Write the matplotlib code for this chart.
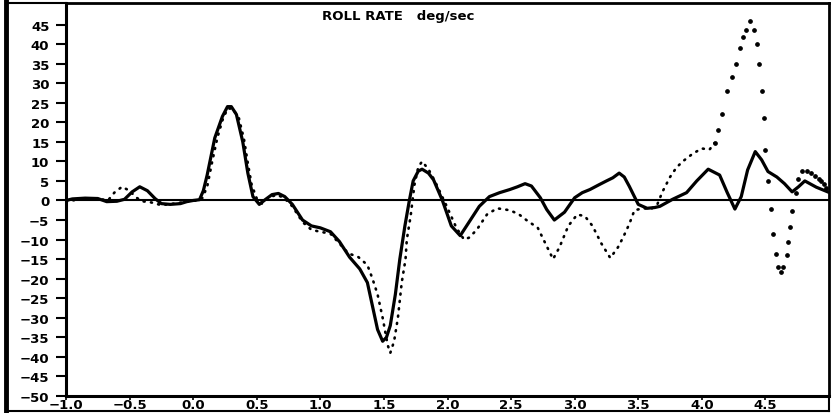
import numpy as np
import matplotlib.pyplot as plt
from matplotlib.lines import Line2D

# roll rate, simulation (solid)
t_sim = [-1.0, -0.95, -0.85, -0.75, -0.68, -0.6, -0.54, -0.48, -0.42, -0.36, -0.3,
         -0.25, -0.18, -0.1, -0.05, 0.0, 0.05, 0.08, 0.11, 0.17, 0.23, 0.27, 0.30,
         0.34, 0.39, 0.43, 0.47, 0.52, 0.57, 0.62, 0.67, 0.72, 0.78, 0.86, 0.93,
         1.0, 1.08, 1.15, 1.23, 1.31, 1.37, 1.41, 1.45, 1.49, 1.52, 1.55, 1.59,
         1.625, 1.665, 1.70, 1.73, 1.77, 1.80, 1.85, 1.89, 1.96, 2.03, 2.10, 2.18,
         2.25, 2.33, 2.41, 2.49, 2.55, 2.61, 2.66, 2.73, 2.78, 2.84, 2.92, 3.0,
         3.06, 3.12, 3.19, 3.25, 3.30, 3.35, 3.39, 3.43, 3.50, 3.57, 3.63, 3.67,
         3.77, 3.88, 3.96, 4.05, 4.14, 4.20, 4.26, 4.31, 4.36, 4.42, 4.47, 4.52,
         4.59, 4.65, 4.71, 4.76, 4.81, 4.90, 4.99]
p_sim = [0.0, 0.4, 0.6, 0.5, -0.3, -0.2, 0.3, 2.2, 3.5, 2.5, 0.5,
         -0.8, -1.0, -0.8, -0.3, 0.0, 0.2, 2.5, 6.5, 16, 21.5, 24, 24,
         22, 15, 7, 1, -1.0, 0.3, 1.5, 1.8, 1.0, -1.0, -5.0, -6.5,
         -7.0, -8.0, -10.5, -14.5, -17.5, -21, -27, -33, -36, -35, -32, -24,
         -15, -6.5, 0, 5, 7.5, 8, 7.0, 5.3, 0, -6.5, -9, -5,
         -1.5, 1, 2, 2.8, 3.5, 4.3, 3.7, 0.7, -2.3, -5, -3, 0.7,
         2.0, 2.8, 4, 5, 5.8, 7, 6, 3.6, -1, -2, -1.8, -1.5,
         0.3, 2, 5, 8, 6.5, 2, -2.2, 1, 7.8, 12.5, 10.4, 7.4,
         6, 4.3, 2.2, 3.5, 5, 3.4, 2.2]

# roll rate, flight data (dotted)
t_flt = [-1.0, -0.9, -0.8, -0.72, -0.67, -0.62, -0.56, -0.5, -0.45, -0.4, -0.33,
         -0.25, -0.15, -0.05, 0.02, 0.07, 0.11, 0.15, 0.19, 0.23, 0.27, 0.31,
         0.36, 0.40, 0.43, 0.46, 0.50, 0.54, 0.60, 0.66, 0.72, 0.78, 0.86, 0.93,
         1.0, 1.08, 1.15, 1.22, 1.30, 1.37, 1.41, 1.45, 1.49, 1.53, 1.55, 1.58,
         1.61, 1.64, 1.67, 1.68, 1.71, 1.74, 1.77, 1.80, 1.85, 1.90, 1.99, 2.07,
         2.13, 2.17, 2.23, 2.31, 2.39, 2.49, 2.56, 2.62, 2.71, 2.77, 2.83, 2.88,
         2.95, 3.02, 3.08, 3.14, 3.21, 3.28, 3.34, 3.38, 3.43, 3.47, 3.54, 3.60,
         3.65, 3.69, 3.75, 3.80, 3.85, 3.93, 4.0, 4.06, 4.10,
         4.13, 4.16, 4.20, 4.24, 4.27, 4.30, 4.32, 4.35, 4.38, 4.41, 4.43, 4.45,
         4.47, 4.49, 4.50, 4.52, 4.54, 4.56, 4.58, 4.60, 4.62, 4.64, 4.67, 4.68,
         4.69, 4.71, 4.74, 4.76, 4.79, 4.83, 4.86, 4.89, 4.92, 4.94, 4.96, 4.98]
p_flt = [-0.3, 0.3, 0.6, 0.3, 0.0, 2.0, 3.5, 2.5, 0.8, -0.2, -0.5,
         -1.2, -0.8, -0.3, 0.0, 0.5, 3.5, 10, 16, 20.5, 23.5, 23.5,
         21, 15.6, 9.5, 4, 0.5, -0.8, 0.8, 1.5, 0.5, -1.5, -5.5, -7.5,
         -8, -8.5, -11, -13.5, -14.5, -16.5, -20, -24, -30, -37, -39, -36,
         -30, -21, -15, -10, -4, 4, 8.5, 10, 8, 5, -1.2, -7,
         -10, -9.5, -7.5, -3.6, -2, -2.5, -3.5, -5, -7, -11, -15, -12,
         -6.5, -3.6, -4, -6.5, -11, -14.7, -12, -9.5, -6, -2.5, -2, -2.2,
         -1.0, 2.2, 6, 8.4, 10, 12, 13.3, 13, 14.7,
         18, 22, 28, 31.7, 35, 39, 41.7, 43.7, 46, 43.7, 40, 35,
         28, 21, 12.9, 5, -2.2, -8.6, -13.7, -17, -18.3, -17, -14, -10.6,
         -6.8, -2.7, 2, 5.5, 7.6, 7.6, 7.0, 6.2, 5.6, 5, 4.2, 3.2]

yticks = np.arange(-50, 50, 5)
xticks = np.arange(-1.0, 5.0, 0.5)

fig = plt.figure(figsize=(8.33, 4.14), dpi=100)
ax = fig.add_axes([66 / 833, 17 / 414, 763 / 833, 393 / 414])

ax.axhline(0, color='black', lw=1.5, zorder=1)
ax.plot(t_sim, p_sim, color='black', lw=2.3, solid_joinstyle='round', zorder=3)

# dense part of the flight trace as a dotted line, the fast spike as single samples
t_flt = np.array(t_flt)
p_flt = np.array(p_flt)
k = np.searchsorted(t_flt, 4.12)
ax.plot(t_flt[:k], p_flt[:k], color='black', lw=1.9,
        ls=(0, (0.4, 2.4)), dash_capstyle='round', zorder=2)
ax.plot(t_flt[k - 1:], p_flt[k - 1:], ls='none', marker='o', ms=2.4,
        color='black', zorder=2)

ax.set_xlim(-1.0, 5.0)
ax.set_ylim(-50, 50.5)
ax.set_yticks(yticks)
ax.set_yticklabels([f'{v:d}' if v >= 0 else f'\u2212{-v:d}' for v in yticks])
ax.set_xticks(xticks)
ax.set_xticklabels([f'{v:.1f}'.replace('-', '\u2212') for v in xticks])

ax.tick_params(axis='y', direction='out', length=7, width=1.5, pad=5,
               labelsize=9.5)
ax.tick_params(axis='x', direction='out', length=3, width=1.2, pad=-1.5,
               labelsize=9.5)
for lab in ax.get_xticklabels() + ax.get_yticklabels():
    lab.set_fontweight('heavy')

ax.spines['left'].set_linewidth(2.2)
ax.spines['bottom'].set_linewidth(2.2)
ax.spines['top'].set_linewidth(2.0)
ax.spines['right'].set_linewidth(2.0)

ax.text(0.336, 0.967, 'ROLL RATE   deg/sec', transform=ax.transAxes,
        ha='left', va='center', fontsize=9.5, fontweight='heavy')

# outer frame of the sheet
fig.add_artist(Line2D([6 / 833, 6 / 833], [0, 1], lw=3.5, color='black'))
fig.add_artist(Line2D([6 / 833, 829 / 833], [2 / 414, 2 / 414], lw=1.5,
                      color='black'))
fig.add_artist(Line2D([829 / 833, 829 / 833], [2 / 414, 17 / 414], lw=1.5,
                      color='black'))
fig.add_artist(Line2D([6 / 833, 66 / 833], [410 / 414, 410 / 414], lw=1.5,
                      color='black'))

fig.savefig('out.png', dpi=100)
